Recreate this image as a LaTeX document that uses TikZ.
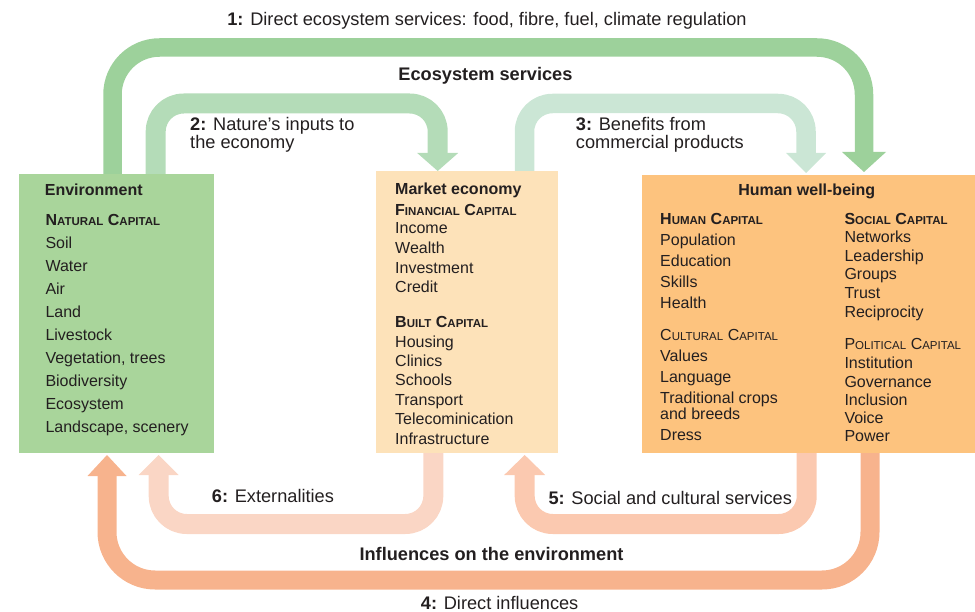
\documentclass[tikz,border=0pt]{standalone}
\usepackage{fontspec}
\setmainfont{Liberation Sans}
\usetikzlibrary{arrows.meta}
\definecolor{txtc}{HTML}{231F20}
\definecolor{gA}{HTML}{9DD19B}
\definecolor{gB}{HTML}{B4DCB8}
\definecolor{gC}{HTML}{CBE6D5}
\definecolor{envc}{HTML}{A9D59B}
\definecolor{mktc}{HTML}{FDE2B9}
\definecolor{hwbc}{HTML}{FDC37E}
\definecolor{oA}{HTML}{F7B38D}
\definecolor{oB}{HTML}{FBC9B0}
\definecolor{oC}{HTML}{FAD6C5}
\newcommand\sck[2]{#1{\fontsize{11.5}{11.5}\selectfont #2}}
\begin{document}
\begin{tikzpicture}[x=1pt,y=-1pt,
  box/.style={draw=none,anchor=north west,inner sep=0pt,outer sep=0pt},
  tl/.style={anchor=base west,inner sep=0pt,text=txtc,font=\fontsize{16}{16}\selectfont},
  hd/.style={tl,font=\bfseries\fontsize{16}{16}\selectfont},
  lab/.style={anchor=base west,inner sep=0pt,text=txtc,font=\fontsize{18.2}{18.2}\selectfont},
  labc/.style={lab,anchor=base},
  flow/.style={line cap=butt,line join=round},
  thin/.style={flow,line width=20pt,rounded corners=28pt},
  thick/.style={flow,line width=18.5pt,rounded corners=47pt}
]
\useasboundingbox (0,0) rectangle (975,612);

% boxes
\node[box,fill=envc,minimum width=195pt,minimum height=279pt] (env) at (19,174) {};
\node[box,fill=mktc,minimum width=182pt,minimum height=282pt] (mkt) at (376,171) {};
\node[box,fill=hwbc,minimum width=333pt,minimum height=278pt] (hwb) at (642,175) {};

% arrow 1
\draw[thick,draw=gA,-{Triangle[width=44pt,length=20pt,line width=0pt]}]
  ([xshift=93.5pt]env.north west) |- (864,47.5) -- ([xshift=222pt,yshift=3pt]hwb.north west);
% arrow 2
\draw[thin,draw=gB,-{Triangle[width=41pt,length=18pt,line width=0pt]}]
  ([xshift=136.7pt]env.north west) |- (437.7,103.5) -- ([xshift=61.7pt]mkt.north west);
% arrow 3
\draw[thin,draw=gC,line width=19.5pt,-{Triangle[width=40pt,length=20pt,line width=0pt]}]
  ([xshift=148.5pt]mkt.north west) |- (806,103.5) -- ([xshift=164pt,yshift=2pt]hwb.north west);
% arrow 4
\draw[thick,draw=oA,line width=19pt,rounded corners=48pt,-{Triangle[width=39pt,length=21pt,line width=0pt]}]
  ([xshift=228pt]hwb.south west) |- (107,580) -- ([xshift=88pt,yshift=-2pt]env.south west);
% arrow 5
\draw[thin,draw=oB,-{Triangle[width=41pt,length=20pt,line width=0pt]}]
  ([xshift=164.7pt]hwb.south west) |- (524.7,524) -- ([xshift=148.7pt,yshift=-2pt]mkt.south west);
% arrow 6
\draw[thin,draw=oC,-{Triangle[width=40pt,length=20pt,line width=0pt]}]
  ([xshift=57.3pt]mkt.south west) |- (158.7,524) -- ([xshift=139.7pt,yshift=-2pt]env.south west);

% flow labels
\node[labc] (l1) at (487,25.3) {\textbf{1:} Direct ecosystem services: food, fibre, fuel, climate regulation};
\node[labc] (es) at (485.5,81) {\textbf{Ecosystem services}};
\node[lab] (l2a) at (190,130.7) {\textbf{2:} Nature’s inputs to};
\node[lab] (l2b) at (190,148.3) {the economy};
\node[lab] (l3a) at (575.7,130.7) {\textbf{3:} Benefits from};
\node[lab] (l3b) at (575.7,148.3) {commercial products};
\node[lab] (l6) at (211.7,502.3) {\textbf{6:} Externalities};
\node[lab] (l5) at (548.3,504.3) {\textbf{5:} Social and cultural services};
\node[labc] (ie) at (491.5,560) {\textbf{Influences on the environment}};
\node[lab] (l4) at (420.7,609.3) {\textbf{4:} Direct influences};

% environment
\node[hd] (envT) at (44.7,196) {Environment};
\node[hd] (envNC) at (45.3,225.7) {\sck{N}{ATURAL} \sck{C}{APITAL}};
\foreach \t [count=\i from 0] in {Soil,Water,Air,Land,Livestock,{Vegetation, trees},Biodiversity,Ecosystem,{Landscape, scenery}}
  \node[tl] (env\i) at (45.3,{248.3+23.05*\i}) {\t};

% market economy
\node[hd] (mktT) at (395,194.3) {Market economy};
\node[hd] (mktFC) at (395,215.7) {\sck{F}{INANCIAL} \sck{C}{APITAL}};
\foreach \t [count=\i from 0] in {Income,Wealth,Investment,Credit}
  \node[tl] (mf\i) at (395,{234+19.56*\i}) {\t};
\node[hd] (mktBC) at (395,327.3) {\sck{B}{UILT} \sck{C}{APITAL}};
\foreach \t [count=\i from 0] in {Housing,Clinics,Schools,Transport,Telecominication,Infrastructure}
  \node[tl] (mb\i) at (395,{347.3+19.34*\i}) {\t};

% human well-being
\node[hd,anchor=base] (hwbT) at (806.7,196) {Human well-being};
\node[hd] (hHC) at (660,225) {\sck{H}{UMAN} \sck{C}{APITAL}};
\foreach \t [count=\i from 0] in {Population,Education,Skills,Health}
  \node[tl] (hh\i) at (660,{246+20.8*\i}) {\t};
\node[tl] (hCC) at (660,341) {\sck{C}{ULTURAL} \sck{C}{APITAL}};
\node[tl] (hc0) at (660,362) {Values};
\node[tl] (hc1) at (660,382.7) {Language};
\node[tl] (hc2) at (660,403.3) {Traditional crops};
\node[tl] (hc3) at (660,419) {and breeds};
\node[tl] (hc4) at (660,440) {Dress};
\node[hd] (hSC) at (844.3,225) {\sck{S}{OCIAL} \sck{C}{APITAL}};
\foreach \t [count=\i from 0] in {Networks,Leadership,Groups,Trust,Reciprocity}
  \node[tl] (hs\i) at (844.3,{242.7+18.65*\i}) {\t};
\node[tl] (hPC) at (844.3,350) {\sck{P}{OLITICAL} \sck{C}{APITAL}};
\foreach \t [count=\i from 0] in {Institution,Governance,Inclusion,Voice,Power}
  \node[tl] (hp\i) at (844.3,{369+18.2*\i}) {\t};
\end{tikzpicture}
\end{document}
